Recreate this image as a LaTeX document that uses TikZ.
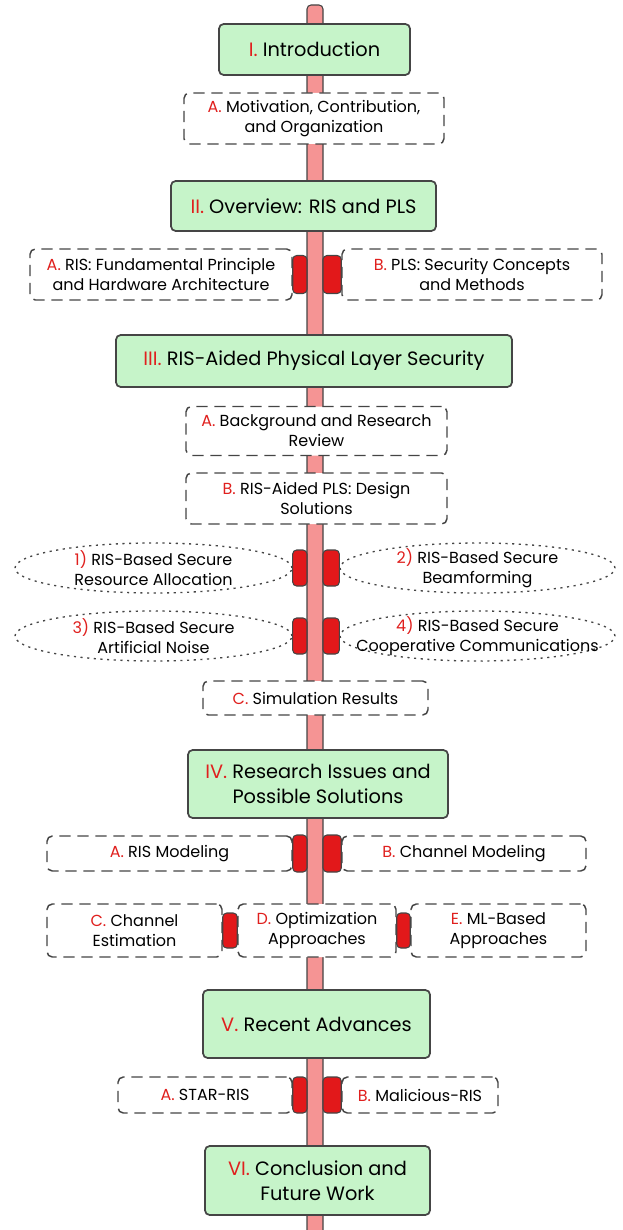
\documentclass[tikz,border=0pt]{standalone}
\usepackage{fontspec}
\setmainfont{Poppins}
\usetikzlibrary{shapes.geometric}
\definecolor{boxgreen}{HTML}{C6F4C9}
\definecolor{edgegray}{HTML}{454545}
\definecolor{spinepink}{HTML}{F59494}
\definecolor{blockred}{HTML}{E2181A}
\definecolor{labred}{HTML}{E0201E}
\newcommand{\rl}[1]{\textcolor{labred}{#1}}
\tikzset{
  mainbox/.style={draw=edgegray, line width=1.3pt, fill=boxgreen, rounded corners=3.5pt,
    align=center, font=\fontsize{14.5}{19}\selectfont, inner sep=0pt},
  subbox/.style={draw=edgegray, line width=1.1pt, fill=white, rounded corners=4pt,
    dash pattern=on 8.5pt off 5pt, align=center, font=\fontsize{12}{15}\selectfont, inner sep=0pt},
  ellbox/.style={ellipse, draw=edgegray, line width=1pt, fill=white,
    dash pattern=on 1.6pt off 3.4pt, inner sep=0pt},
  elltext/.style={align=center, font=\fontsize{12}{15}\selectfont, inner sep=0pt},
  spinebar/.style={draw=edgegray, line width=0.8pt, fill=spinepink, rounded corners=3pt},
  redblock/.style={draw=edgegray, line width=0.8pt, fill=blockred, rounded corners=3pt},
}
\begin{document}
\begin{tikzpicture}[x=0.75pt,y=-0.75pt]
\useasboundingbox (0,0) rectangle (622,1230);
% spine
\coordinate (top) at (315,5);
\coordinate (bot) at (315,1240);
\path[spinebar] ([xshift=-6pt]top) rectangle ([xshift=6pt]bot);

% nodes
\node[mainbox, minimum width=191*0.75pt, minimum height=51*0.75pt] (n1) at (314.5,49.5) {\rl{I.} Introduction};
\node[subbox, minimum width=260*0.75pt, minimum height=51*0.75pt] (n1a) at (314,118.5) {\rl{A.} Motivation, Contribution,\\and Organization};
\node[mainbox, minimum width=265*0.75pt, minimum height=50*0.75pt] (n2) at (303.5,206) {\rl{II.} Overview: RIS and PLS};
\node[subbox, minimum width=262*0.75pt, minimum height=51*0.75pt] (n2a) at (161,274.5) {\rl{A.} RIS: Fundamental Principle\\and Hardware Architecture};
\node[subbox, minimum width=260*0.75pt, minimum height=51*0.75pt] (n2b) at (472,274.5) {\rl{B.} PLS: Security Concepts\\and Methods};
\node[mainbox, minimum width=396*0.75pt, minimum height=52*0.75pt] (n3) at (314,361) {\rl{III.} RIS-Aided Physical Layer Security};
\node[subbox, minimum width=261*0.75pt, minimum height=49*0.75pt] (n3a) at (316.5,431) {\rl{A.} Background and Research\\Review};
\node[subbox, minimum width=261*0.75pt, minimum height=51*0.75pt] (n3b) at (316.5,498.5) {\rl{B.} RIS-Aided PLS: Design\\Solutions};
\node[ellbox, minimum width=277*0.75pt, minimum height=50*0.75pt] (e1) at (153.5,568) {};
\node[elltext] at (e1) {\rl{1)} RIS-Based Secure\\Resource Allocation};
\node[ellbox, minimum width=275*0.75pt, minimum height=50*0.75pt] (e2) at (477.5,568) {};
\node[elltext] at (e2) {\rl{2)} RIS-Based Secure\\Beamforming};
\node[ellbox, minimum width=277*0.75pt, minimum height=50*0.75pt] (e3) at (153.5,636) {};
\node[elltext] at (e3) {\rl{3)} RIS-Based Secure\\Artificial Noise};
\node[ellbox, minimum width=275*0.75pt, minimum height=50*0.75pt] (e4) at (477.5,636) {};
\node[elltext] at (e4) {\rl{4)} RIS-Based Secure\\Cooperative Communications};
\node[subbox, minimum width=225*0.75pt, minimum height=34*0.75pt] (n3c) at (315.5,698) {\rl{C.} Simulation Results};
\node[mainbox, minimum width=260*0.75pt, minimum height=68*0.75pt] (n4) at (318,784) {\rl{IV.} Research Issues and\\Possible Solutions};
\node[subbox, minimum width=245*0.75pt, minimum height=35*0.75pt] (n4a) at (169.5,853.5) {\rl{A.} RIS Modeling};
\node[subbox, minimum width=244*0.75pt, minimum height=35*0.75pt] (n4b) at (464,853.5) {\rl{B.} Channel Modeling};
\node[subbox, minimum width=175*0.75pt, minimum height=53*0.75pt] (n4c) at (134.5,930.5) {\rl{C.} Channel\\Estimation};
\node[subbox, minimum width=158*0.75pt, minimum height=53*0.75pt] (n4d) at (317,930.5) {\rl{D.} Optimization\\Approaches};
\node[subbox, minimum width=175*0.75pt, minimum height=53*0.75pt] (n4e) at (498.5,930.5) {\rl{E.} ML-Based\\Approaches};
\node[mainbox, minimum width=227*0.75pt, minimum height=68*0.75pt] (n5) at (316.5,1024) {\rl{V.} Recent Advances};
\node[subbox, minimum width=174*0.75pt, minimum height=36*0.75pt] (n5a) at (205,1095) {\rl{A.} STAR-RIS};
\node[subbox, minimum width=156*0.75pt, minimum height=36*0.75pt] (n5b) at (420,1095) {\rl{B.} Malicious-RIS};
\node[mainbox, minimum width=225*0.75pt, minimum height=69*0.75pt] (n6) at (317.5,1180.5) {\rl{VI.} Conclusion and\\Future Work};

% red connector blocks (box edge to spine)
\foreach \l/\r/\yc/\hh in {n2a/n2b/274.5/19, e1/e2/568/18, e3/e4/636/18, n4a/n4b/853.5/18.5, n5a/n5b/1095/18}{
  \path[redblock] (\l.east |- 0,\yc-\hh) rectangle (307,\yc+\hh);
  \path[redblock] (323,\yc-\hh) rectangle (\r.west |- 0,\yc+\hh);
}
\path[redblock] (n4c.east |- 0,913) rectangle (n4d.west |- 0,948);
\path[redblock] (n4d.east |- 0,913) rectangle (n4e.west |- 0,948);
\end{tikzpicture}
\end{document}
